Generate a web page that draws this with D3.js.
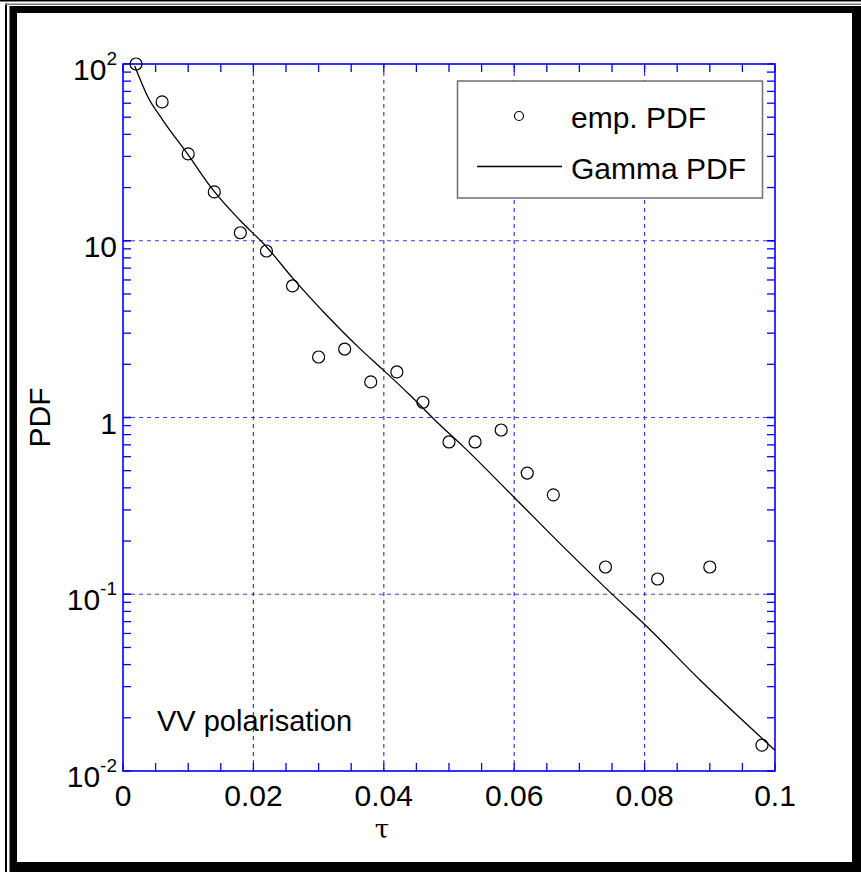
<!DOCTYPE html>
<html>
<head>
<meta charset="utf-8">
<script src="https://cdn.jsdelivr.net/npm/d3@7"></script>
<style>
    body { margin: 0; background: #fff; }
    text { font-family: Arial, 'Liberation Sans', sans-serif; fill: #000; }
</style>
</head>
<body>
<div id="chart"></div>
<script>
'use strict';

// empirical PDF (circles)
var tauEmp = [0.002, 0.006, 0.010, 0.014, 0.018, 0.022, 0.026, 0.030, 0.034, 0.038, 0.042,
    0.046, 0.050, 0.054, 0.058, 0.062, 0.066, 0.074, 0.082, 0.090, 0.098];
var pdfEmp = [100, 61, 31, 18.9, 11.1, 8.75, 5.55, 2.2, 2.44, 1.59, 1.81,
    1.22, 0.727, 0.727, 0.85, 0.485, 0.365, 0.1426, 0.122, 0.1426, 0.014];

// fitted Gamma PDF (line)
var tauFit = [0.0018, 0.0038, 0.0061, 0.0100, 0.0138, 0.0179, 0.0220, 0.0261, 0.0312, 0.0363,
    0.0399, 0.0440, 0.0481, 0.0522, 0.0599, 0.0675, 0.0757, 0.0801, 0.0885, 0.1];
var pdfFit = [97.4, 65.3, 48.2, 30.6, 19.4, 13.1, 9.25, 6.1, 3.80, 2.46,
    1.86, 1.34, 0.946, 0.684, 0.356, 0.186, 0.0948, 0.067, 0.0327, 0.0131];

var xTicks = [0, 0.02, 0.04, 0.06, 0.08, 0.1];
var xTickLabels = ['0', '0.02', '0.04', '0.06', '0.08', '0.1'];
var yTicks = [100, 10, 1, 0.1, 0.01];
var yTickBase = ['10', '10', '1', '10', '10'];
var yTickExp = ['2', '', '', '-1', '-2'];

var legendLabels = ['emp. PDF', 'Gamma PDF'];

var chart = (function() {

    var width = 861,
        height = 872;

    var left = 123, right = 775,
        top = 64, bottom = 771;

    var blue = '#0000ff',
        gridBlue = '#3c3cf0';

    var svg = d3.select('#chart').append('svg')
        .attr('width', width)
        .attr('height', height);

    var x = d3.scaleLinear().domain([0, 0.1]).range([left, right]);
    var y = d3.scaleLog().domain([0.01, 100]).range([bottom, top]);

    var init = function() {
        drawFrame();
        drawGrid();
        drawAxes();
        drawData();
        drawLegend();
    };

    function drawFrame() {
        // thin outer lines
        svg.append('rect').attr('x', 0).attr('y', 0).attr('width', width).attr('height', 1.5).attr('fill', '#000');
        svg.append('rect').attr('x', 5).attr('y', 3.5).attr('width', 2).attr('height', height).attr('fill', '#000');
        svg.append('rect').attr('x', 5).attr('y', 3.5).attr('width', width).attr('height', 1.5).attr('fill', '#777');
        // thick black frame
        svg.append('path')
            .attr('fill', '#000')
            .attr('fill-rule', 'evenodd')
            .attr('d', 'M9.5,6H861V872H9.5Z M17,13V862H852V13Z');
    }

    function drawGrid() {
        var g = svg.append('g').attr('class', 'grid');
        g.selectAll('line.vx')
            .data(xTicks.slice(1, -1))
            .enter().append('line')
            .attr('x1', function(d) { return x(d); })
            .attr('x2', function(d) { return x(d); })
            .attr('y1', top).attr('y2', bottom)
            .attr('stroke', gridBlue).attr('stroke-width', 1.2)
            .attr('stroke-dasharray', '4,4');
        g.selectAll('line.hy')
            .data(yTicks.slice(1, -1))
            .enter().append('line')
            .attr('y1', function(d) { return y(d); })
            .attr('y2', function(d) { return y(d); })
            .attr('x1', left).attr('x2', right)
            .attr('stroke', gridBlue).attr('stroke-width', 1.2)
            .attr('stroke-dasharray', '4,4');
    }

    function drawAxes() {
        var minorX = d3.range(0, 21).map(function(i) { return i * 0.005; });
        var minorY = [];
        [0.01, 0.1, 1, 10].forEach(function(b) {
            for (var k = 1; k <= 10; k++) minorY.push(b * k);
        });

        var tickLen = 8;
        var axes = svg.append('g').attr('class', 'axes')
            .attr('stroke', blue).attr('stroke-width', 1.3);

        // bottom + top ticks
        axes.selectAll('line.tb')
            .data(minorX).enter().append('line')
            .attr('x1', function(d) { return x(d); }).attr('x2', function(d) { return x(d); })
            .attr('y1', bottom).attr('y2', bottom - tickLen);
        axes.selectAll('line.tt')
            .data(minorX).enter().append('line')
            .attr('x1', function(d) { return x(d); }).attr('x2', function(d) { return x(d); })
            .attr('y1', top).attr('y2', top + tickLen);
        // left + right ticks
        axes.selectAll('line.tl')
            .data(minorY).enter().append('line')
            .attr('y1', function(d) { return y(d); }).attr('y2', function(d) { return y(d); })
            .attr('x1', left).attr('x2', left + tickLen);
        axes.selectAll('line.tr')
            .data(minorY).enter().append('line')
            .attr('y1', function(d) { return y(d); }).attr('y2', function(d) { return y(d); })
            .attr('x1', right).attr('x2', right - tickLen);

        axes.append('rect')
            .attr('x', left).attr('y', top)
            .attr('width', right - left).attr('height', bottom - top)
            .attr('fill', 'none').attr('stroke-width', 1.6);

        // x tick labels
        svg.append('g').selectAll('text')
            .data(xTicks).enter().append('text')
            .attr('x', function(d) { return x(d); })
            .attr('y', bottom + 35)
            .attr('text-anchor', 'middle')
            .style('font-size', '30px')
            .text(function(d, i) { return xTickLabels[i]; });

        // y tick labels with exponents
        var yl = svg.append('g').selectAll('text')
            .data(yTicks).enter().append('text')
            .attr('x', left - 6)
            .attr('y', function(d) { return y(d) + 16; })
            .attr('text-anchor', 'end')
            .style('font-size', '30px');
        yl.append('tspan').text(function(d, i) { return yTickBase[i]; });
        yl.append('tspan')
            .attr('dy', -15)
            .style('font-size', '19px')
            .text(function(d, i) { return yTickExp[i]; });

        svg.append('text')
            .attr('x', 382).attr('y', 838)
            .attr('text-anchor', 'middle')
            .style('font-family', "'DejaVu Serif', serif")
            .style('font-size', '26px')
            .text('\u03c4');

        svg.append('text')
            .attr('transform', 'translate(50,' + ((top + bottom) / 2) + ') rotate(-90)')
            .attr('text-anchor', 'middle')
            .style('font-size', '30px')
            .text('PDF');

        svg.append('text')
            .attr('x', 157).attr('y', 731)
            .style('font-size', '29px')
            .text('VV polarisation');
    }

    function drawData() {
        var fit = tauFit.map(function(t, i) { return [t, pdfFit[i]]; });
        var line = d3.line()
            .x(function(d) { return x(d[0]); })
            .y(function(d) { return y(d[1]); })
            .curve(d3.curveMonotoneX);

        svg.append('path')
            .datum(fit)
            .attr('d', line)
            .attr('fill', 'none')
            .attr('stroke', '#000')
            .attr('stroke-width', 1.3);

        svg.append('g').selectAll('circle')
            .data(tauEmp).enter().append('circle')
            .attr('cx', function(d) { return x(d); })
            .attr('cy', function(d, i) { return y(pdfEmp[i]); })
            .attr('r', 6)
            .attr('fill', 'none')
            .attr('stroke', '#000')
            .attr('stroke-width', 1.2);
    }

    function drawLegend() {
        var lg = svg.append('g').attr('class', 'legend');
        lg.append('rect')
            .attr('x', 457.5).attr('y', 81)
            .attr('width', 305).attr('height', 117)
            .attr('fill', '#fff')
            .attr('stroke', '#6e6e6e').attr('stroke-width', 1.5);

        lg.append('circle')
            .attr('cx', 519).attr('cy', 116).attr('r', 4.5)
            .attr('fill', 'none').attr('stroke', '#000').attr('stroke-width', 1.2);
        lg.append('line')
            .attr('x1', 477).attr('x2', 562)
            .attr('y1', 166.5).attr('y2', 166.5)
            .attr('stroke', '#000').attr('stroke-width', 1.3);

        lg.selectAll('text')
            .data(legendLabels).enter().append('text')
            .attr('x', 571)
            .attr('y', function(d, i) { return 128 + i * 51; })
            .style('font-size', '30px')
            .text(function(d) { return d; });
    }

    return {
        init: init
    };
})();

chart.init();
</script>
</body>
</html>
